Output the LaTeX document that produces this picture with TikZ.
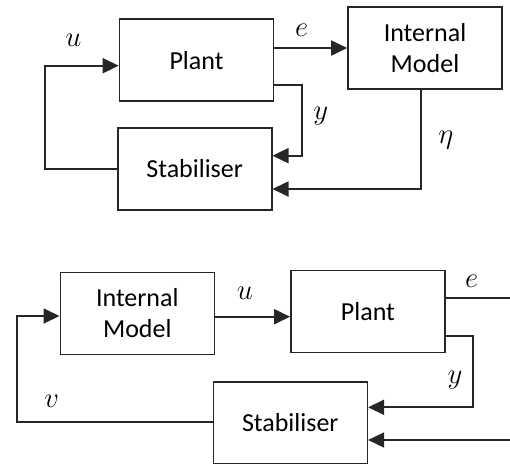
\documentclass[tikz,border=0pt]{standalone}
\usepackage{fontspec}
\setmainfont{Carlito}
\usetikzlibrary{arrows.meta}
\begin{document}
\begin{tikzpicture}[x=0.5pt,y=-0.5pt,
  box/.style={draw=black!85,line width=0.8pt,minimum width=77pt,minimum height=41pt,inner sep=0pt,align=center,font=\fontsize{13}{15.5}\selectfont},
  lab/.style={inner sep=0pt,font=\fontsize{15}{17}\selectfont},
  conn/.style={draw=black!85,line width=0.9pt},
  arr/.style={conn,-{Triangle[length=8pt,width=7.5pt]}}]
\useasboundingbox (0,0) rectangle (510,463);
\clip (0,0) rectangle (510,463);
% top diagram
\node[box] (P1) at (196.5,60.2) {Plant};
\node[box] (IM1) at (425,48) {Internal\\Model};
\node[box] (S1) at (194.7,168.8) {Stabiliser};
\draw[arr] (P1.east |- IM1.west) -- (IM1.west);
\node[lab] (le1) at (301.7,30.7) {$e$};
\coordinate (u1) at (45,65.7);
\draw[arr] (S1.west) -- (S1.west -| u1) -- (u1) -- (P1.west |- u1);
\node[lab] (lu1) at (73.3,40.7) {$u$};
\coordinate (y1a) at (302.3,85);
\coordinate (y1b) at (302.3,155.7);
\draw[arr] (P1.east |- y1a) -- (y1a) -- (y1b) -- (S1.east |- y1b);
\node[lab] (ly1) at (320.8,115.8) {$y$};
\coordinate (eta1) at (420.7,189);
\draw[arr] (IM1.south -| eta1) -- (eta1) -- (S1.east |- eta1);
\node[lab] (leta1) at (445.8,140) {$\eta$};
% bottom diagram
\node[box] (IM2) at (137.3,313.3) {Internal\\Model};
\node[box] (P2) at (367.9,311.3) {Plant};
\node[box] (S2) at (290.3,423) {Stabiliser};
\coordinate (u2) at (250,316.7);
\draw[arr] (IM2.east |- u2) -- (P2.west |- u2);
\node[lab] (lu2) at (245,293.3) {$u$};
\coordinate (eR) at (512,298.3);
\draw[conn] (P2.east |- eR) -- (eR);
\node[lab] (le2) at (471.7,281.7) {$e$};
\coordinate (y2a) at (473.3,336);
\coordinate (y2b) at (473.3,407.3);
\draw[arr] (P2.east |- y2a) -- (y2a) -- (y2b) -- (S2.east |- y2b);
\node[lab] (ly2) at (455,380) {$y$};
\coordinate (wR) at (512,440);
\draw[arr] (wR) -- (S2.east |- wR);
\coordinate (v2a) at (16.7,422.3);
\coordinate (v2b) at (16.7,316);
\draw[arr] (S2.west |- v2a) -- (v2a) -- (v2b) -- (IM2.west |- v2b);
\node[lab] (lv2) at (51.7,401.7) {$v$};
\end{tikzpicture}
\end{document}
